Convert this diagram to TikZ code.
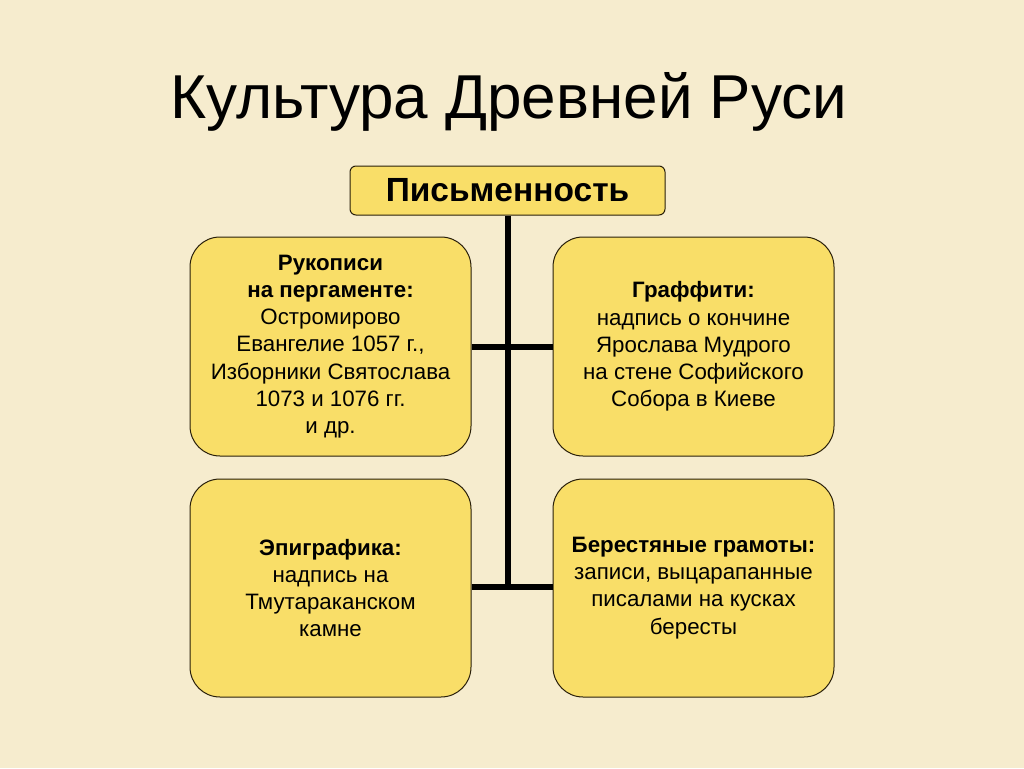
\documentclass[tikz,border=0pt]{standalone}
\usepackage{fontspec}
\setmainfont{Liberation Sans}
\definecolor{bgc}{RGB}{246,236,206}
\definecolor{boxc}{RGB}{249,222,104}
\definecolor{edgec}{RGB}{40,30,10}
\tikzset{
  card/.style={draw=edgec, line width=1pt, fill=boxc, rounded corners=30pt,
    minimum width=281pt, minimum height=219pt, inner sep=0pt, align=center,
    font=\fontsize{22.3pt}{27.2pt}\selectfont, text=black},
  headbox/.style={draw=edgec, line width=1pt, fill=boxc, rounded corners=6pt,
    minimum width=315pt, minimum height=49pt, inner sep=0pt,
    font=\fontsize{33.5pt}{35pt}\selectfont\bfseries},
  link/.style={line width=6pt, black},
}
\begin{document}
\begin{tikzpicture}[x=1pt,y=-1pt]
\fill[bgc] (0,0) rectangle (1024,768);
\useasboundingbox (0,0) rectangle (1024,768);
\node[font=\fontsize{62pt}{66pt}\selectfont, anchor=base] (title) at (509,118) {Культура Древней Руси};
\node[headbox] (top) at (507.5,190.5) {Письменность};
\node[card] (tl) at (330.5,346.5) {\textbf{Рукописи}\\\textbf{на пергаменте:}\\Остромирово\\Евангелие 1057 г.,\\Изборники Святослава\\1073 и 1076 гг.\\и др.};
\node[card] (tr) at (693.5,346.5) {\textbf{Граффити:}\\надпись о кончине\\Ярослава Мудрого\\на стене Софийского\\Собора в Киеве};
\node[card, minimum height=218pt] (bl) at (330.5,588) {\textbf{Эпиграфика:}\\надпись на\\Тмутараканском\\камне};
\node[card, minimum height=218pt] (br) at (693.5,588) {\textbf{Берестяные грамоты:}\\записи, выцарапанные\\писалами на кусках\\бересты};
\coordinate (bottomjoin) at (508,587);
\draw[link] (top.south -| bottomjoin) -- (bottomjoin);
\draw[link] (tl.east) -- (tr.west);
\draw[link] (bl.east |- bottomjoin) -- (br.west |- bottomjoin);
\end{tikzpicture}
\end{document}
